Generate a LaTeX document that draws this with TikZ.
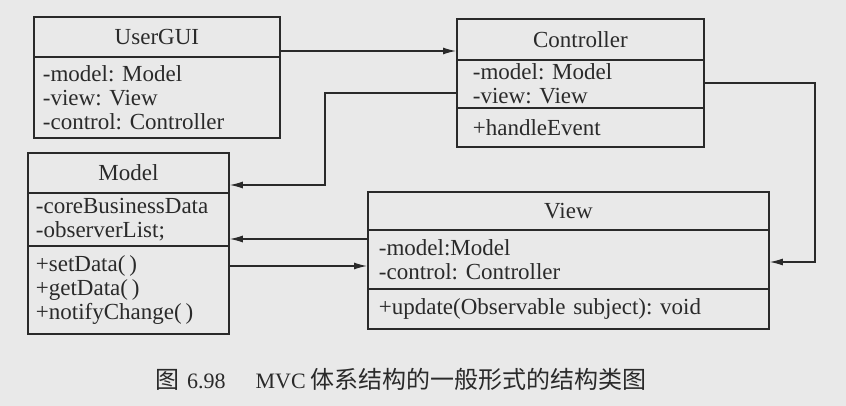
\documentclass[tikz,border=0pt]{standalone}
\usepackage{fontspec}
\setmainfont{Liberation Serif}
\newfontfamily\cjk{Noto Sans CJK SC}
\usetikzlibrary{arrows.meta}
\definecolor{bg}{HTML}{E9E9E9}
\definecolor{ink}{HTML}{2A2A2A}
\frenchspacing
\tikzset{
  comp/.style={draw=ink, line width=1.8pt, anchor=north west, inner ysep=0pt,
    text=ink, font=\frenchspacing\fontsize{23}{24}\selectfont, align=left},
  ttl/.style={comp, align=center},
  arr/.style={draw=ink, line width=1.2pt, -{Latex[length=13pt,width=7pt]}},
}
\begin{document}
\begin{tikzpicture}[x=1pt,y=-1pt]
\fill[bg] (0,0) rectangle (846,406);
\useasboundingbox (0,0) rectangle (846,406);

% UserGUI
\node[ttl, minimum width=246pt, minimum height=40pt, text width=228pt, inner xsep=9pt] (ugui-h) at (33,16) {UserGUI};
\node[comp, minimum width=246pt, minimum height=81pt, text width=228pt, inner xsep=9pt] (ugui-a) at (33,56)
  {-model: Model\\-view: View\\-control: Controller};

% Controller
\node[ttl, minimum width=247pt, minimum height=41pt, text width=215pt, inner xsep=16pt] (ctrl-h) at (456,18) {Controller};
\node[comp, minimum width=247pt, minimum height=48pt, text width=215pt, inner xsep=16pt] (ctrl-a) at (456,59)
  {-model: Model\\-view: View};
\node[comp, minimum width=247pt, minimum height=39pt, text width=215pt, inner xsep=16pt] (ctrl-m) at (456,107)
  {+handleEvent};

% Model
\node[ttl, minimum width=201pt, minimum height=40pt, text width=185pt, inner xsep=8pt] (model-h) at (27,152) {Model};
\node[comp, minimum width=201pt, minimum height=53pt, text width=185pt, inner xsep=8pt] (model-a) at (27,192)
  {-coreBusinessData\\-observerList;};
\node[comp, minimum width=201pt, minimum height=88pt, text width=185pt, inner xsep=8pt] (model-m) at (27,245)
  {+setData(\,)\\+getData(\,)\\+notifyChange(\,)};

% View
\node[ttl, minimum width=401pt, minimum height=38pt, text width=379pt, inner xsep=11pt] (view-h) at (367,191) {View};
\node[comp, minimum width=401pt, minimum height=59pt, text width=379pt, inner xsep=11pt] (view-a) at (367,229)
  {-model:Model\\-control: Controller};
\node[comp, minimum width=401pt, minimum height=40pt, text width=379pt, inner xsep=11pt] (view-m) at (367,288)
  {+update(Observable subject): void};

% connector coordinates
\coordinate (c1) at (0,51);
\coordinate (c2) at (325,93);
\coordinate (c3) at (325,185);
\coordinate (c4) at (815,83);
\coordinate (c5) at (815,262);
\coordinate (c6) at (0,239);
\coordinate (c7) at (0,266);

\draw[arr] (ugui-h.east |- c1) -- (ctrl-h.west |- c1);
\draw[arr] (ctrl-a.west |- c2) -- (c2) -- (c3) -- (model-h.east |- c3);
\draw[arr] (ctrl-a.east |- c4) -- (c4) -- (c5) -- (view-a.east |- c5);
\draw[arr] (view-a.west |- c6) -- (model-a.east |- c6);
\draw[arr] (model-m.east |- c7) -- (view-a.west |- c7);

% caption
\node[anchor=west, inner sep=0pt, text=ink] (cap) at (155,379)
  {{\cjk\fontsize{24}{24}\selectfont 图}\hspace{8pt}{\fontsize{22}{22}\selectfont 6.98}\hspace{30pt}{\fontsize{22}{22}\selectfont MVC}\hspace{5pt}{\cjk\fontsize{24}{24}\selectfont 体系结构的一般形式的结构类图}};
\end{tikzpicture}
\end{document}
